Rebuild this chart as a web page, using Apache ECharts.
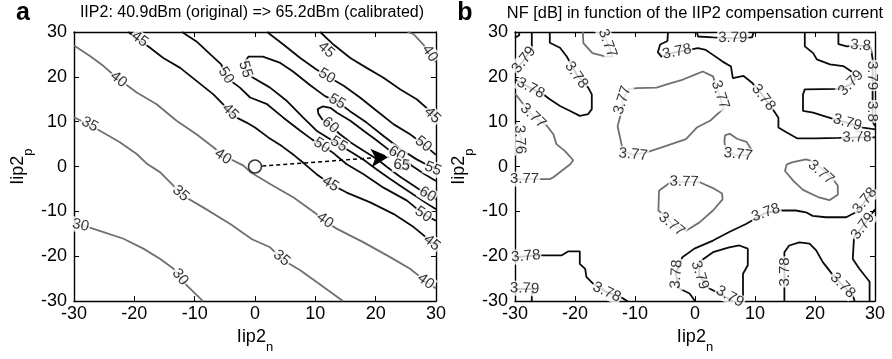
<!DOCTYPE html>
<html><head><meta charset="utf-8">
<script src="https://cdn.jsdelivr.net/npm/echarts@6/dist/echarts.min.js"></script>
<style>html,body{margin:0;padding:0;background:#fff}#c{width:892px;height:359px}</style>
</head><body><div id="c"></div>
<script>
// ---------- axis ticks ----------
const tickVals = [-30, -20, -10, 0, 10, 20, 30];
const titleA = 'IIP2: 40.9dBm (original) => 65.2dBm (calibrated)';
const titleB = 'NF [dB] in function of the IIP2 compensation current';
const xName = 'Iip2', xSub = 'n', yName = 'Iip2', ySub = 'p';

// ---------- panel a : IIP2 contours (x = Iip2n, y = Iip2p) ----------
const a30 = [[-30,-12.8],[-27.9,-13.4],[-25.1,-14.6],[-21.8,-16.1],[-18.5,-18.3],[-15.7,-20.6],[-13.5,-22.8],[-11.9,-25.7],[-8.8,-29.8],[-8.6,-30]];
const a35 = [[-30,11],[-28.5,10],[-25.7,8.0],[-22.4,5.4],[-19.6,2.8],[-17.9,0.6],[-15.7,-1.3],[-13.0,-5.0],[-11.9,-6.5],[-8.6,-9.1],[-4.1,-12.8],[-0.5,-16.2],[2.5,-18.0],[4.7,-20.9],[7.5,-23.1],[11.3,-26.8],[14.4,-29.8],[14.6,-30]];
const a40 = [[-30,27],[-27.3,24.6],[-25.1,22.4],[-22.9,19.8],[-19.6,16.5],[-16.3,13.9],[-13.0,10.2],[-9.7,7.2],[-6.9,4.3],[-5.2,2.4],[-1.9,0.2],[-0.8,-1.2],[2.5,-3.9],[6.4,-6.9],[10.2,-10.6],[11.3,-12.0],[13.6,-13.9],[18.0,-16.9],[22.4,-20.2],[25.7,-22.8],[28.2,-25.5],[30,-27.2]];
const a40b = [[25.3,30],[26.3,29.5],[27.9,27.2],[29.2,24.7],[30,23.2]];
const a45 = [[-21,30],[-17.4,26.5],[-15.2,24.2],[-12.4,22.0],[-9.7,19.1],[-6.9,16.1],[-4.7,13.1],[-3.6,11.3],[-1.4,9.8],[0,8.7],[2.2,6.5],[4.5,4.5],[6.5,2.5],[8.3,0.5],[10.2,-1.7],[12.5,-3.9],[15.2,-5.8],[19.1,-8.0],[23.0,-10.6],[26.3,-13.5],[29.0,-16.5],[30,-17.6]];
const a45b = [[10.8,30],[13,27.2],[15.8,24.2],[18.5,22.0],[21.3,19.8],[24.1,17.2],[26.8,15.0],[29.0,12.4],[30,11]];
const a50 = [[2.0,30],[4.7,27.2],[7.5,24.2],[10,21.8],[11.9,20.2],[14.7,18.0],[17.4,15.4],[20.2,12.4],[23.0,9.4],[25.7,7.2],[27.9,5.0],[30,2.6]];
const a50b = [[-12.1,30],[-9.7,27.9],[-7.4,25],[-5.6,22.8],[-4.7,19.8],[-2.5,17.6],[-0.8,15.4],[2.0,13.9],[4.7,10.9],[7.5,8.0],[9.5,6],[11.1,4.7],[13,3],[15.2,0.5],[18.0,-1.7],[21.3,-4.7],[25.2,-7.6],[27.9,-10.6],[30,-12.1]];
const a55 = [[30,-0.3],[28.5,0.4],[26.8,1.6],[24.1,3.9],[21.3,6.8],[18.5,9.8],[15.8,12.3],[13.6,14.5],[11.6,15.7],[9.1,18.2],[6.3,21.2],[4.2,23.1],[1.3,24.5],[-1.1,24.5],[-1.6,23.4],[-1.6,21.2],[-0.3,19.8],[2.5,17.6],[5.3,14.6],[8.0,10.9],[10.2,8.0],[12,6.5],[13.8,5.0],[16,3.2],[18,1.5],[20,-0.5],[22,-2.4],[24,-4.2],[26,-6],[28,-7.8],[30,-9.5]];
const a60 = [[30,-3.2],[28,-1.6],[26,0.2],[24.5,2],[22.4,3.5],[20.2,5.8],[18.0,8.0],[15.8,10.2],[13.6,12.0],[12.5,13.1],[11.2,13.4],[10.4,12.8],[10.5,11.8],[11.1,10.6],[12.5,9.1],[14.1,7.2],[15.8,5.4],[18.0,3.5],[20.2,1.7],[22,-0.2],[24,-2.2],[26,-4],[28,-5.8],[30,-7.3]];
const a65 = [[23.3,0.8],[24.2,1.3],[25.2,0.9],[25.5,0],[24.8,-0.6],[23.7,-0.5],[23.2,0.1],[23.3,0.8]];
const levelsA = {a30:30,a35:35,a40:40,a40b:40,a45:45,a45b:45,a50:50,a50b:50,a55:55,a60:60,a65:65};
const linesA = {a30,a35,a40,a40b,a45,a45b,a50,a50b,a55,a60,a65};
// contour labels: [text, x, y, line]
const labelsA = [
  ['30',-28.9,-13.1,'a30'],['30',-12.4,-24.6,'a30'],
  ['35',-27.4,9.4,'a35'],['35',-12.3,-6.0,'a35'],['35',4.4,-20.4,'a35'],
  ['40',-22.6,19.4,'a40'],['40',-5.3,2.2,'a40'],['40',11.6,-12.0,'a40'],['40',28.3,-25.6,'a40'],['40',29.0,25.2,'a40b'],
  ['45',-19.1,28.4,'a45'],['45',-4.1,12.2,'a45'],['45',12.5,-3.9,'a45'],['45',29.3,-17.0,'a45'],
  ['45',11.8,26.0,'a45b'],['45',29.4,11.4,'a45b'],
  ['50',-4.8,20.3,'a50b'],['50',11.1,4.7,'a50b'],['50',27.9,-10.7,'a50b'],['50',11.9,20.2,'a50'],['50',27.9,5.0,'a50'],
  ['55',-1.6,21.7,'a55'],['55',13.6,14.5,'a55'],['55',13.9,5.0,'a55'],['55',29.5,-0.5,'a55'],
  ['60',12.5,9.2,'a60'],['60',23.5,2.8,'a60'],['60',28.6,-6.2,'a60'],
  ['65',24.3,0.3,'a65']
];
const startPoint = [0, 0];
const arrowEnd = [22.2, 2.2];
const optTail = [[23.9,0.6],[25.6,-1.3]];

// ---------- panel b : NF contours ----------
const b379a = [[-27.2,30],[-27.2,26.3],[-28.7,23.4],[-30,21.5]];
const b38a = [[-29.3,30],[-29.3,29.3],[-30,28.7]];
const b378a = [[-24.2,30],[-24.2,27.6],[-22.5,26.5],[-21.4,24.6],[-19.7,20.5],[-17.8,17.6],[-17.2,16.1],[-17.2,12.8],[-17.8,11.7],[-19.2,11.3],[-20.8,12.4],[-22.5,13.5],[-24.2,15.0],[-25.3,16.1],[-27.5,17.6],[-30,19.4]];
const b377a = [[-30,16.3],[-28.6,13.9],[-27,11.3],[-24.7,9.1],[-23.6,7.2],[-23.1,5.0],[-21.7,3.5],[-20.3,1.4],[-20.8,0.5],[-23.6,-2.4],[-24.2,-2.8],[-30,-2.8]];
const b376 = [[-30,9.5],[-29.3,8],[-29,6],[-29.2,3.5],[-30,2.5]];
const b377b = [[-18.7,30],[-18.6,27.5],[-17.1,25.3],[-14.8,24.5],[-13.7,24.5],[-14.3,26.5],[-15,29],[-15.2,30]];
const b378b = [[-4.5,30],[-4.6,28],[-5.8,27.2],[-6.2,25.5],[-5.6,24.5],[-4,25.3],[-2,25.8],[0.5,26.4],[1.8,26],[3,24.9],[4.6,23.4],[6,22.3],[6.3,19.7],[8.1,20.2],[9.5,18.7],[11.2,16],[12.8,13.1],[13.9,10.9],[13.9,8.7],[15.3,7.6],[17.0,6.3],[20,6.3],[24,6.4],[27,6.5],[30,6.5]];
const b379b = [[0.3,30],[0.5,29],[3,28.8],[6.3,28.6],[9.5,28.8],[9.8,30]];
const b377c = [[-9.7,17.5],[-6.4,17.6],[-4.7,18.3],[-2,19.4],[0,20.5],[1.3,21.2],[3,20.1],[4.1,15.7],[4.8,13],[2.5,10.2],[0.3,8.7],[-1.5,6.1],[-4.8,4.6],[-8.2,3.1],[-10.4,2.6],[-12,3.5],[-12.3,5.3],[-12.9,9.0],[-12.3,12],[-12,15],[-11,17.3],[-9.7,17.5]];
const b377d = [[5,7],[5.8,7.3],[7,6.2],[8.6,5.5],[9.5,3.6],[8.5,2.5],[7,2.5],[5.2,3.5],[4.9,5.5],[5,7]];
const b377e = [[15.3,0.5],[16.3,1.0],[18.5,1.6],[19.5,1.2],[21.3,-0.6],[23,-2.8],[23.8,-4.3],[23.8,-6.3],[22.4,-7.5],[20.5,-6.8],[18,-5.2],[16.4,-3.2],[15,-1],[15.3,0.5]];
const b38b = [[23.9,30],[23.9,27.3],[25.3,26.8],[27.5,27],[29.3,26.5],[29.6,24],[29.6,10],[30,9]];
const b379c = [[18.3,30],[18.3,26.8],[19.7,25.3],[20.3,23.9],[22.5,22.8],[24.7,22.4],[26.4,20.9],[26.7,19.5],[25.8,18.2],[24,17.3],[18.3,17.2],[18,16.1],[18,12.4],[19.7,12.0],[21.4,11.3],[23.3,10.5],[25.3,9.8],[28,8.7],[30,8.3]];
const b378c = [[0,-30],[-0.1,-29.8],[-0.9,-28.3],[-2.6,-27.2],[-3.2,-24],[-2.1,-20.2],[-0.1,-18.3],[3,-16.5],[5.7,-14.6],[8.5,-12.8],[11.8,-10.3],[14.1,-9.8],[16.8,-9.8],[18.5,-10.2],[19.6,-11],[21.8,-11.3],[25.2,-11.3],[26.8,-10.2],[28.5,-7.5],[30,-5]];
const b379d = [[30,-9.5],[28.7,-12],[27.3,-14.5],[26.5,-15.8],[26.3,-20.6],[27.4,-22.8],[29.1,-25.7],[29.1,-30]];
const b378d = [[14.9,-30],[14.9,-19.1],[15.7,-17.6],[17.4,-16.9],[19.1,-17.2],[20.2,-18.7],[21.3,-21.3],[23,-24.2],[24.6,-26.5],[26.3,-28.7],[26.6,-30]];
const b379e = [[6.3,-30],[4.6,-28.7],[2.4,-27.2],[0.7,-24.3],[0.7,-21.3],[3,-19.1],[5.7,-18],[7.4,-17.6],[8.8,-18.3],[8.8,-22],[8,-23.9],[8,-30]];
const b378e = [[-30,-20.2],[-26.4,-19.8],[-22.2,-19.8],[-21.1,-18.9],[-19.2,-18.9],[-19.2,-21.7],[-18.3,-22.8],[-18.1,-24.6],[-17,-26.1],[-14.7,-28],[-12.5,-29],[-11.5,-29.8],[-11.2,-30]];
const b379f = [[-30,-27.3],[-27,-27.3],[-27.2,-28.5],[-27.2,-30]];
const b377f = [[-2,-3.4],[-4.2,-3.6],[-6,-5.4],[-6.1,-9.8],[-5,-11],[-3.6,-13.2],[-1.5,-14.3],[0.7,-12.5],[3,-9.8],[4.6,-7.3],[4.5,-6],[3,-4.8],[0.8,-3.5],[-2,-3.4]];
const levelsB = {b379a:3.79,b38a:3.8,b378a:3.78,b377a:3.77,b376:3.76,b377b:3.77,b378b:3.78,b379b:3.79,b377c:3.77,b377d:3.77,b377e:3.77,b38b:3.8,b379c:3.79,b378c:3.78,b379d:3.79,b378d:3.78,b379e:3.79,b378e:3.78,b379f:3.79,b377f:3.77};
const linesB = {b379a,b38a,b378a,b377a,b376,b377b,b378b,b379b,b377c,b377d,b377e,b38b,b379c,b378c,b379d,b378d,b379e,b378e,b379f,b377f};
const labelsB = [
  ['3.79',-28.5,23.8,'b379a'],
  ['3.78',-19.8,20.4,'b378a'],['3.78',-27.4,17.5,'b378a'],
  ['3.77',-27.0,11.3,'b377a'],['3.77',-28.4,-2.8,'b377a'],
  ['3.76',-29.2,6.0,'b376'],
  ['3.77',-14.6,27.5,'b377b'],
  ['3.78',-3.0,25.6,'b378b'],['3.78',11.4,15.4,'b378b'],['3.78',27.0,6.5,'b378b'],
  ['3.79',6.3,28.7,'b379b'],
  ['3.77',-12.1,14.8,'b377c'],['3.77',4.2,16.0,'b377c'],['3.77',-10.3,2.7,'b377c'],
  ['3.77',7.2,2.7,'b377d'],
  ['3.77',21.0,-1.3,'b377e'],
  ['3.8',27.6,27.0,'b38b'],['3.79',29.5,20.3,'b38b'],['3.8',29.5,12.3,'b38b'],
  ['3.79',26.0,18.6,'b379c'],['3.79',25.4,9.8,'b379c'],
  ['3.78',-3.1,-24.0,'b378c'],['3.78',11.8,-10.3,'b378c'],['3.78',28.3,-7.6,'b378c'],
  ['3.79',28.0,-13.3,'b379d'],
  ['3.78',14.9,-23.5,'b378d'],['3.78',24.6,-26.5,'b378d'],
  ['3.79',0.8,-24.2,'b379e'],['3.79',5.8,-29.0,'b379e'],
  ['3.78',-28.2,-20.0,'b378e'],['3.78',-14.7,-28.0,'b378e'],
  ['3.79',-28.4,-27.2,'b379f'],
  ['3.77',-1.8,-3.4,'b377f'],['3.77',-3.9,-12.9,'b377f']
];

// ---------- chart ----------
const FONT = '"Liberation Sans", Arial, Helvetica, sans-serif';
const GRAY = '#707070', BLACK = '#0a0a0a';
const chart = echarts.init(document.getElementById('c'), null, {renderer: 'canvas'});
const grids = [
  {left: 74, right: 456, top: 32, bottom: 56},
  {left: 515, right: 17, top: 32, bottom: 56}
];
const tmin = tickVals[0], tmax = tickVals[tickVals.length - 1], tint = tickVals[1] - tickVals[0];
const nameRich = {
  m: {fontSize: 18, fontFamily: FONT, color: '#000', lineHeight: 34},
  s: {fontSize: 13, fontFamily: FONT, color: '#000', lineHeight: 14, verticalAlign: 'bottom'}
};
function axisPair(gi, isX) {
  const common = {gridIndex: gi, type: 'value', min: tmin, max: tmax, interval: tint,
    splitLine: {show: false},
    axisLine: {show: true, onZero: false, lineStyle: {color: '#000', width: 1.4}},
    axisTick: {show: true, inside: true, length: 5, lineStyle: {color: '#000', width: 1}}};
  const main = Object.assign({}, common, {
    position: isX ? 'bottom' : 'left',
    axisLabel: {show: true, fontSize: 18, fontFamily: FONT, color: '#000', margin: isX ? 4 : 7},
    name: isX ? '{m|' + xName + '}{s|' + xSub + '}' : '{m|' + yName + '}{s|' + ySub + '}',
    nameLocation: 'middle', nameGap: isX ? 12 : 39,
    nameTextStyle: {rich: nameRich}
  });
  const second = Object.assign({}, common, {position: isX ? 'top' : 'right', axisLabel: {show: false}});
  return [main, second];
}
const xAxes = [...axisPair(0, true), ...axisPair(1, true)];
const yAxes = [...axisPair(0, false), ...axisPair(1, false)];

function lineSeries(gi, pts, gray) {
  return {type: 'line', xAxisIndex: gi * 2, yAxisIndex: gi * 2, data: pts, showSymbol: false, symbol: 'none',
    lineStyle: {color: gray ? GRAY : BLACK, width: 1.8}, silent: true, z: 2, animation: false};
}
const seriesLines = [];
Object.keys(linesA).forEach(k => seriesLines.push(lineSeries(0, linesA[k], levelsA[k] <= 40)));
Object.keys(linesB).forEach(k => seriesLines.push(lineSeries(1, linesB[k], levelsB[k] <= 3.77)));

const markerSeries = {
  type: 'scatter', xAxisIndex: 0, yAxisIndex: 0, data: [startPoint], symbol: 'circle', symbolSize: 13,
  itemStyle: {color: '#fff', borderColor: '#000', borderWidth: 1.6}, z: 6, silent: true, animation: false,
  markLine: {silent: true, animation: false, symbol: ['none', 'arrow'], symbolSize: [14, 18],
    label: {show: false}, lineStyle: {color: '#000', width: 1.5, type: [4, 3]},
    data: [
      [{coord: [startPoint[0] + 1.2, startPoint[1] + 0.1]}, {coord: arrowEnd}],
      [{coord: optTail[0], symbol: 'none'}, {coord: optTail[1], symbol: 'none'}]
    ]}
};

chart.setOption({
  animation: false,
  backgroundColor: '#fff',
  grid: grids,
  xAxis: xAxes,
  yAxis: yAxes,
  graphic: [
    {type: 'text', x: 252, y: 13, style: {text: titleA, font: '16px ' + FONT, fill: '#000', align: 'center', verticalAlign: 'middle', textAlign: 'center', textVerticalAlign: 'middle'}},
    {type: 'text', x: 695, y: 13, style: {text: titleB, font: '16.4px ' + FONT, fill: '#000', align: 'center', verticalAlign: 'middle', textAlign: 'center', textVerticalAlign: 'middle'}},
    {type: 'text', x: 23, y: 13, style: {text: 'a', font: 'bold 25px ' + FONT, fill: '#000', align: 'center', verticalAlign: 'middle', textAlign: 'center', textVerticalAlign: 'middle'}},
    {type: 'text', x: 465, y: 13, style: {text: 'b', font: 'bold 25px ' + FONT, fill: '#000', align: 'center', verticalAlign: 'middle', textAlign: 'center', textVerticalAlign: 'middle'}}
  ],
  series: seriesLines.concat([markerSeries])
});

function angleFor(gi, pts, x, y) {
  const f = {xAxisIndex: gi * 2, yAxisIndex: gi * 2};
  const P = pts.map(p => chart.convertToPixel(f, p));
  const q = chart.convertToPixel(f, [x, y]);
  const cum = [0];
  for (let i = 1; i < P.length; i++) cum.push(cum[i - 1] + Math.hypot(P[i][0] - P[i - 1][0], P[i][1] - P[i - 1][1]));
  let best = Infinity, s0 = 0;
  for (let i = 0; i < P.length - 1; i++) {
    const a = P[i], b = P[i + 1], dx = b[0] - a[0], dy = b[1] - a[1];
    const L2 = dx * dx + dy * dy || 1;
    let t = ((q[0] - a[0]) * dx + (q[1] - a[1]) * dy) / L2;
    t = Math.max(0, Math.min(1, t));
    const d = Math.hypot(a[0] + t * dx - q[0], a[1] + t * dy - q[1]);
    if (d < best) { best = d; s0 = cum[i] + t * Math.sqrt(L2); }
  }
  function at(s) {
    s = Math.max(0, Math.min(cum[cum.length - 1], s));
    for (let i = 0; i < P.length - 1; i++) {
      if (s <= cum[i + 1] || i === P.length - 2) {
        const seg = cum[i + 1] - cum[i] || 1, t = (s - cum[i]) / seg;
        return [P[i][0] + t * (P[i + 1][0] - P[i][0]), P[i][1] + t * (P[i + 1][1] - P[i][1])];
      }
    }
  }
  const A = at(s0 - 9), B = at(s0 + 9);
  let ang = -Math.atan2(B[1] - A[1], B[0] - A[0]) * 180 / Math.PI;
  if (ang > 90) ang -= 180;
  if (ang < -90) ang += 180;
  return ang;
}
function labelSeries(gi, labels, lines) {
  return {type: 'scatter', xAxisIndex: gi * 2, yAxisIndex: gi * 2, symbolSize: 1, silent: true, z: 5, animation: false,
    itemStyle: {color: 'rgba(0,0,0,0)'},
    data: labels.map(l => ({value: [l[1], l[2]], label: {show: true, position: 'inside', formatter: l[0],
      rotate: angleFor(gi, lines[l[3]], l[1], l[2]), color: '#000', fontSize: 15, fontFamily: FONT,
      backgroundColor: '#fff', padding: [0, 1]}}))};
}
chart.setOption({series: seriesLines.concat([markerSeries, labelSeries(0, labelsA, linesA), labelSeries(1, labelsB, linesB)])});
</script></body></html>
